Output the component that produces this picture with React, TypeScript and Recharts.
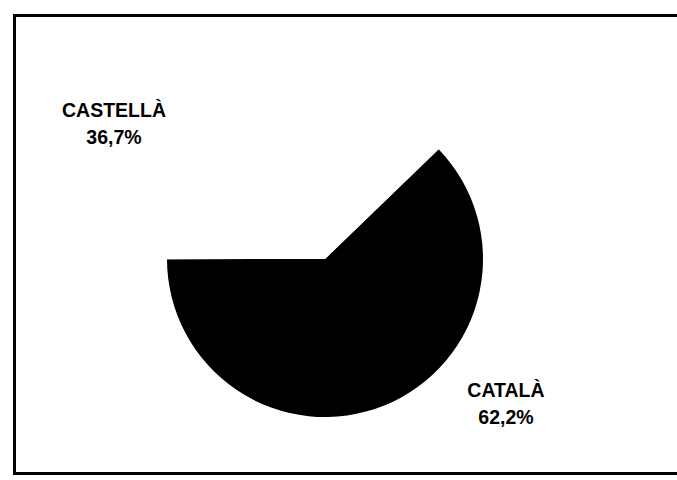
import React from "react";
import { PieChart, Pie, Cell } from "recharts";

const categories = ["CATALÀ", "CASTELLÀ", "ALTRES"];
const shares = [62.2, 36.7, 1.1];
const shareLabels = ["62,2%", "36,7%", ""];
const sliceColors = ["#000000", "#ffffff", "#ffffff"];

const data = categories.map((name, i) => ({ name, value: shares[i], label: shareLabels[i] }));

// label anchor offsets relative to pie centre (text placement only)
const labelOffsets: Record<number, { dx: number; dy: number }> = {
  0: { dx: 181, dy: 138 },
  1: { dx: -211, dy: -142 },
};

const renderLabel = (props: any) => {
  const { cx, cy, index } = props;
  const off = labelOffsets[index];
  if (!off) return null;
  const x = cx + off.dx;
  const y = cy + off.dy;
  return (
    <text
      key={`lbl-${index}`}
      x={x}
      y={y}
      textAnchor="middle"
      fill="#000"
      style={{ fontFamily: "'Liberation Sans', Arial, sans-serif", fontWeight: 700, fontSize: 19.5 }}
    >
      <tspan x={x} dy={0}>{data[index].name}</tspan>
      <tspan x={x} dy={27}>{data[index].label}</tspan>
    </text>
  );
};

export default function App() {
  return (
    <div style={{ position: "absolute", left: 0, top: 0, width: 677, height: 480, background: "#fff", overflow: "hidden" }}>
      <div
        style={{
          position: "absolute",
          left: 13,
          top: 14,
          width: 664,
          height: 461,
          borderTop: "3px solid #000",
          borderLeft: "3px solid #000",
          borderBottom: "3px solid #000",
          borderRight: "none",
          boxSizing: "border-box",
        }}
      />
      <div style={{ position: "absolute", left: 0, top: 0 }}>
        <PieChart width={677} height={480} margin={{ top: 0, right: 0, bottom: 0, left: 0 }}>
          <Pie
            data={data}
            dataKey="value"
            nameKey="name"
            cx={325}
            cy={259}
            outerRadius={158}
            innerRadius={0}
            startAngle={44}
            endAngle={-316}
            stroke="none"
            isAnimationActive={false}
            label={renderLabel}
            labelLine={false}
          >
            {data.map((d, i) => (
              <Cell key={d.name} fill={sliceColors[i]} stroke="none" />
            ))}
          </Pie>
        </PieChart>
      </div>
    </div>
  );
}
